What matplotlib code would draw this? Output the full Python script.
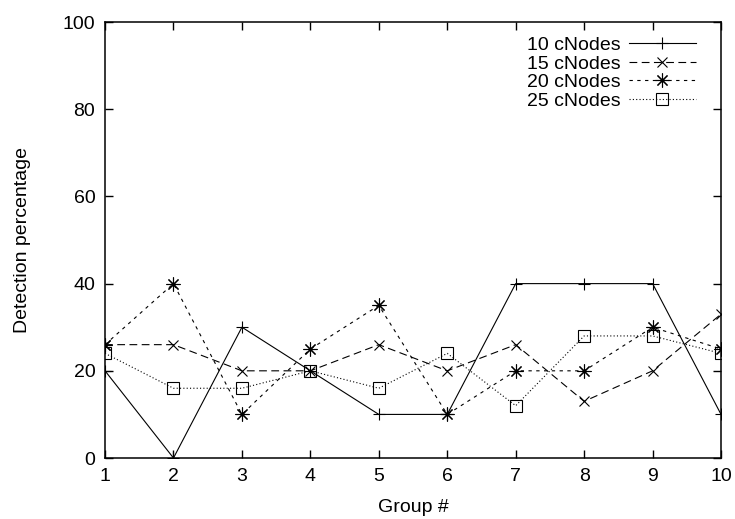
import matplotlib
matplotlib.use("Agg")
import matplotlib.pyplot as plt

plt.rcParams['font.family'] = ['Liberation Sans', 'DejaVu Sans']

groups = [1, 2, 3, 4, 5, 6, 7, 8, 9, 10]
c10 = [20, 0, 30, 20, 10, 10, 40, 40, 40, 10]
c15 = [26, 26, 20, 20, 26, 20, 26, 13, 20, 33]
c20 = [26, 40, 10, 25, 35, 10, 20, 20, 30, 25]
c25 = [24, 16, 16, 20, 16, 24, 12, 28, 28, 24]
labels = ["10 cNodes", "15 cNodes", "20 cNodes", "25 cNodes"]

fig = plt.figure(figsize=(7.35, 5.19), dpi=100)
ax = fig.add_axes([0.1429, 0.1175, 0.981 - 0.1429, 0.9576 - 0.1175])

lw = 0.8
ax.plot(groups, c10, color='black', lw=lw, marker='+', ms=8, mew=0.8, label=labels[0])
ax.plot(groups, c15, color='black', lw=lw, dashes=(7, 4), marker='x', ms=7, mew=0.8, label=labels[1])
ax.plot(groups, c20, color='black', lw=lw, dashes=(3, 4), marker=(8, 2, 0), ms=10, mew=0.8, label=labels[2])
ax.plot(groups, c25, color='black', lw=lw, dashes=(1, 2), marker='s', ms=8, mew=0.8,
        mfc='none', label=labels[3])

ax.set_xlim(1, 10)
ax.set_ylim(0, 100)
ax.set_xticks(groups)
ax.set_yticks([0, 20, 40, 60, 80, 100])
ax.tick_params(direction='in', top=True, right=True, length=6, width=1, labelsize=14, pad=7)
for s in ax.spines.values():
    s.set_linewidth(1.1)

ax.set_xlabel("Group #", fontsize=14, labelpad=10)
ax.set_ylabel("Detection percentage", fontsize=14, labelpad=23)

ax.legend(loc='upper right', bbox_to_anchor=(1.0, 1.025), frameon=False, markerfirst=False,
          fontsize=14, handlelength=3.45, labelspacing=0.05, borderaxespad=0.9, borderpad=0.4,
          handletextpad=0.4)

fig.savefig("out.png", dpi=100)
